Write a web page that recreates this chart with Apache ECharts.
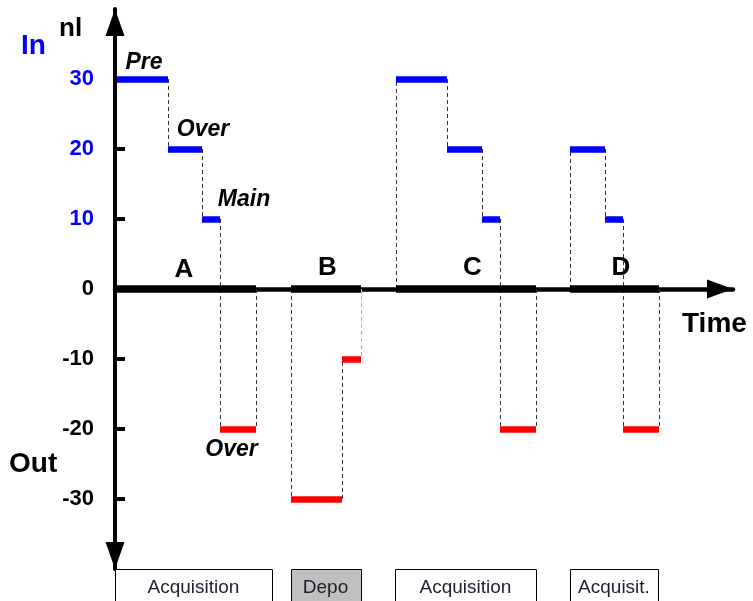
<!DOCTYPE html>
<html>
<head>
<meta charset="utf-8">
<script src="https://cdn.jsdelivr.net/npm/echarts@6/dist/echarts.min.js"></script>
<style>
html,body{margin:0;padding:0;background:#fff;}
#chart{width:753px;height:601px;}
</style>
</head>
<body>
<div id="chart"></div>
<script>
// ---- data (time units, nl) ----
const yTicks = [-30, -20, -10, 0, 10, 20, 30];
// input (blue) steps: [tStart, tEnd, nl]
const inSteps = [[0.2,5.3,30],[5.3,8.7,20],[8.7,10.5,10],
                 [28.1,33.2,30],[33.2,36.7,20],[36.7,38.5,10],
                 [45.5,49.0,20],[49.0,50.8,10]];
// output (red) steps: [tStart, tEnd, nl]
const outSteps = [[10.5,14.1,-20],[17.6,22.7,-30],[22.7,24.6,-10],
                  [38.5,42.1,-20],[50.8,54.4,-20]];
// active phases on the time axis: [tStart, tEnd]
const phaseBars = [[0.2,14.1],[17.6,24.6],[28.1,42.1],[45.5,54.4]];
// dashed guides: [t, nlFrom, nlTo]
const guides = [[5.3,30,20],[8.7,20,10],[10.5,10,-20],[14.1,0,-20],
                [17.6,0,-30],[22.7,-30,-10],
                [28.1,0,30],[33.2,30,20],[36.7,20,10],[38.5,10,-20],[42.1,0,-20],
                [45.5,0,20],[49.0,20,10],[50.8,10,-20],[54.4,0,-20]];
const lightGuides = [[24.6,0,-10]];
// phase letters: [text, t, nl]
const phaseLetters = [['A',6.9,2.8],['B',21.25,3.0],['C',35.75,3.0],['D',50.6,3.0]];
// step names: [text, t, nl]
const stepNames = [['Pre',2.9,32.35],['Over',8.8,22.7],['Main',12.9,12.7],['Over',11.65,-22.9]];
// mode boxes: [name, tStart, tEnd, shaded]
const modes = [['Acquisition',0.0,15.7,false],['Depo',17.55,24.55,true],
               ['Acquisition',28.0,42.1,false],['Acquisit.',45.5,54.3,false]];

const FONT = '"Liberation Sans", Arial, sans-serif';
const TMAX = 61.8;

function segLines(arr){ return arr.map(s => ({coords: [[s[0], s[2]], [s[1], s[2]]]})); }
function vLines(arr){ return arr.map(s => ({coords: [[s[0], s[1]], [s[0], s[2]]]})); }

const chart = echarts.init(document.getElementById('chart'), null, {renderer: 'canvas'});
chart.setOption({
  animation: false,
  backgroundColor: '#ffffff',
  title: [
    {text: 'nl', left: 59, top: 16, padding: 0, textStyle: {fontFamily: FONT, fontSize: 26, fontWeight: 'bold', color: '#000'}},
    {text: 'In', left: 21, top: 32, padding: 0, textStyle: {fontFamily: FONT, fontSize: 28, fontWeight: 'bold', color: '#0000ff'}},
    {text: 'Out', left: 9, top: 450, padding: 0, textStyle: {fontFamily: FONT, fontSize: 28, fontWeight: 'bold', color: '#000'}},
    {text: 'Time', left: 682, top: 310, padding: 0, textStyle: {fontFamily: FONT, fontSize: 28, fontWeight: 'bold', color: '#000'}}
  ],
  grid: [
    {left: 115, top: 9, width: 618, height: 560},
    {left: 115, top: 569, width: 618, height: 40}
  ],
  xAxis: [
    {type: 'value', gridIndex: 0, min: 0, max: TMAX,
     axisLine: {onZero: true, symbol: ['none', 'triangle'], symbolSize: [19, 26], symbolOffset: [0, -13],
                lineStyle: {color: '#000', width: 4.5}},
     axisTick: {show: false}, axisLabel: {show: false}, splitLine: {show: false}},
    {type: 'value', gridIndex: 1, min: 0, max: TMAX, show: false}
  ],
  yAxis: [
    {type: 'value', gridIndex: 0, min: -40, max: 40, interval: 10,
     axisLine: {onZero: false, symbol: ['triangle', 'triangle'], symbolSize: [19, 27], symbolOffset: [13.5, -13.5],
                lineStyle: {color: '#000', width: 4}},
     axisTick: {inside: true, length: 10, lineStyle: {color: '#000', width: 4}, customValues: yTicks},
     axisLabel: {margin: 21, customValues: yTicks,
       formatter: v => (v > 0 ? '{p|' + v + '}' : '{n|' + v + '}'),
       rich: {
         p: {fontFamily: FONT, fontSize: 22, fontWeight: 'bold', color: '#0000ff'},
         n: {fontFamily: FONT, fontSize: 22, fontWeight: 'bold', color: '#000'}
       }},
     splitLine: {show: false}},
    {type: 'value', gridIndex: 1, min: 0, max: 1, show: false}
  ],
  series: [
    {type: 'lines', coordinateSystem: 'cartesian2d', silent: true, z: 1,
     lineStyle: {color: '#333', width: 1, type: [4, 3], opacity: 1}, data: vLines(guides)},
    {type: 'lines', coordinateSystem: 'cartesian2d', silent: true, z: 1,
     lineStyle: {color: '#b0b0b0', width: 1, type: [4, 3], opacity: 1}, data: vLines(lightGuides)},
    {type: 'lines', coordinateSystem: 'cartesian2d', silent: true, z: 3,
     lineStyle: {color: '#000', width: 7.5, opacity: 1}, data: phaseBars.map(p => ({coords: [[p[0], 0], [p[1], 0]]}))},
    {type: 'lines', coordinateSystem: 'cartesian2d', silent: true, z: 3,
     lineStyle: {color: '#0000ff', width: 6.5, opacity: 1}, data: segLines(inSteps)},
    {type: 'lines', coordinateSystem: 'cartesian2d', silent: true, z: 3,
     lineStyle: {color: '#ff0000', width: 6.5, opacity: 1}, data: segLines(outSteps)},
    {type: 'scatter', silent: true, symbolSize: 0, z: 4, itemStyle: {opacity: 1},
     data: phaseLetters.map(d => ({value: [d[1], d[2]], name: d[0]})),
     label: {show: true, position: 'inside', formatter: p => p.name, opacity: 1,
             fontFamily: FONT, fontSize: 26, fontWeight: 'bold', color: '#000'}},
    {type: 'scatter', silent: true, symbolSize: 0, z: 4, itemStyle: {opacity: 1},
     data: stepNames.map(d => ({value: [d[1], d[2]], name: d[0]})),
     label: {show: true, position: 'inside', formatter: p => p.name, opacity: 1,
             fontFamily: FONT, fontSize: 23, fontWeight: 'bold', fontStyle: 'italic', color: '#000'}},
    {type: 'custom', xAxisIndex: 1, yAxisIndex: 1, silent: true,
     data: modes.map(m => [m[1], m[2], m[3] ? 1 : 0, m[0]]),
     renderItem: function (params, api) {
       const m = modes[params.dataIndex];
       const p0 = api.coord([m[1], 1]);
       const p1 = api.coord([m[2], 0]);
       const mid = api.coord([(m[1] + m[2]) / 2, 0.42]);
       return {type: 'group', children: [
         {type: 'rect', shape: {x: Math.round(p0[0]) + 0.5, y: Math.round(p0[1]) + 0.5,
                                width: Math.round(p1[0] - p0[0]), height: Math.round(p1[1] - p0[1])},
          style: {fill: m[3] ? '#c0c0c0' : '#ffffff', stroke: '#000', lineWidth: 1}},
         {type: 'text', x: mid[0], y: mid[1],
          style: {text: m[0], fill: '#1e1e30', fontFamily: FONT, fontSize: 19, align: 'center', verticalAlign: 'middle'}}
       ]};
     }}
  ]
});
</script>
</body>
</html>
